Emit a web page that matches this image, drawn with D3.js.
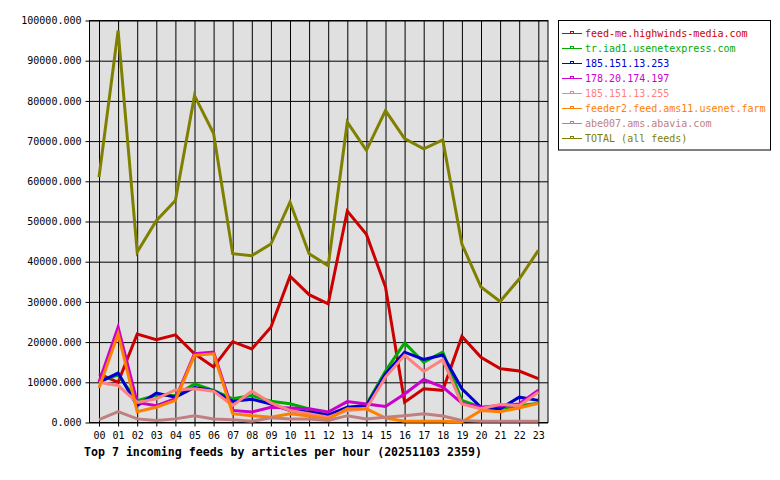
<!DOCTYPE html>
<html>
<head>
<meta charset="utf-8">
<script src="https://cdn.jsdelivr.net/npm/d3@7"></script>
<style>
  body { margin: 0; background: #fff; }
  text { font-family: "DejaVu Sans Mono", "Liberation Mono", monospace; }
</style>
</head>
<body>
<div id="chart"></div>
<script>
var hours = ["00","01","02","03","04","05","06","07","08","09","10","11",
             "12","13","14","15","16","17","18","19","20","21","22","23"];

var feedNames = ["feed-me.highwinds-media.com", "tr.iad1.usenetexpress.com", "185.151.13.253",
                 "178.20.174.197", "185.151.13.255", "feeder2.feed.ams11.usenet.farm",
                 "abe007.ams.abavia.com", "TOTAL (all feeds)"];
var feedColors = ["#cc0000", "#00aa00", "#0000cc", "#cc00cc", "#ff8080", "#ff8000", "#c08080", "#808000"];

var highwinds = [12100,10000,22000,20600,21800,17100,13800,20100,18300,23700,36400,31800,
                 29500,52600,46800,33700,5050,8400,8000,21400,16200,13400,12800,10900];
var usenetexpress = [10400,11800,5400,6800,6700,9600,8000,5900,6700,5300,4650,3400,
                     1700,3400,4500,12800,19800,15000,17500,5500,3800,3400,4200,4800];
var ip253 = [10000,12300,4200,7300,6300,8700,7900,5300,5800,4600,3000,2600,
             1900,3800,4200,12100,17500,15700,16800,8400,3800,3400,6300,5500];
var ip197 = [10000,23700,5000,4200,5900,17100,17500,3000,2600,3800,3600,3400,
             2600,5200,4600,4000,7100,10700,8800,4800,3800,4200,4600,8000];
var ip255 = [10000,9200,5000,5900,8100,8400,7800,4200,7800,4900,3000,2200,
             1300,3000,3400,11300,16700,12700,15600,4600,3400,4500,4200,7500];
var feeder2 = [8600,22100,2700,3800,5500,16700,17100,2200,1700,1300,2200,1600,
               900,3400,3400,1100,300,300,300,100,3000,2700,3600,4800];
var abe007 = [700,2700,900,500,900,1700,900,700,300,1200,900,900,
              500,1700,900,1300,1700,2200,1600,500,300,300,300,300];
var total = [61000,97500,42400,50200,55200,81300,71900,42000,41500,44400,54800,42000,
             39000,74700,67700,77600,70600,68100,70300,44400,33700,30100,35700,42800];

var yTicks = [0,10000,20000,30000,40000,50000,60000,70000,80000,90000,100000];
var title = "Top 7 incoming feeds by articles per hour (20251103 2359)";

var series = [highwinds, usenetexpress, ip253, ip197, ip255, feeder2, abe007, total];

var svg = d3.select("#chart").append("svg")
    .attr("width", 780)
    .attr("height", 480);

var plot = {left: 89.5, right: 548, top: 20.5, bottom: 422.5};

var x = d3.scalePoint().domain(hours).range([99, 538.3]);
var y = d3.scaleLinear().domain([0, 100000]).range([plot.bottom, plot.top]);

svg.append("rect")
    .attr("x", plot.left).attr("y", plot.top)
    .attr("width", plot.right - plot.left).attr("height", plot.bottom - plot.top)
    .attr("fill", "#e0e0e0");

// y axis with grid lines across the plot
var yaxis = svg.append("g")
    .attr("transform", "translate(" + plot.left + ",0)")
    .call(d3.axisLeft(y)
        .tickValues(yTicks)
        .tickSizeInner(-(plot.right - plot.left))
        .tickSizeOuter(0)
        .tickPadding(8)
        .tickFormat(d3.format(".3f")));
yaxis.select(".domain").remove();
yaxis.selectAll(".tick line").attr("stroke", "#000").attr("x1", -4);
yaxis.selectAll(".tick text")
    .attr("font-size", "10px")
    .attr("font-family", "DejaVu Sans Mono")
    .attr("fill", "#000");

// x axis, grid lines up to the top
var xaxis = svg.append("g")
    .attr("transform", "translate(0," + plot.bottom + ")")
    .call(d3.axisBottom(x)
        .tickSizeInner(4)
        .tickSizeOuter(0)
        .tickPadding(5));
xaxis.select(".domain").remove();
xaxis.selectAll(".tick line").attr("stroke", "#000").attr("y1", -(plot.bottom - plot.top));
xaxis.selectAll(".tick text")
    .attr("font-size", "10px")
    .attr("font-family", "DejaVu Sans Mono")
    .attr("fill", "#000");

svg.append("rect")
    .attr("x", plot.left).attr("y", plot.top)
    .attr("width", plot.right - plot.left).attr("height", plot.bottom - plot.top)
    .attr("fill", "none").attr("stroke", "#000");

var line = d3.line()
    .x(function(d, i) { return x(hours[i]); })
    .y(function(d) { return y(d); });

svg.append("g").selectAll("path")
    .data(series)
    .enter().append("path")
    .attr("d", function(d) { return line(d); })
    .attr("fill", "none")
    .attr("stroke", function(d, i) { return feedColors[i]; })
    .attr("stroke-width", 3)
    .attr("stroke-linejoin", "miter");

svg.append("text")
    .attr("x", 84)
    .attr("y", 456)
    .attr("font-size", "11.6px")
    .attr("font-weight", "bold")
    .attr("font-family", "Liberation Mono")
    .attr("fill", "#000")
    .text(title);

// legend
var legend = svg.append("g");
legend.append("rect")
    .attr("x", 558.5).attr("y", 20.5)
    .attr("width", 212).attr("height", 129.5)
    .attr("fill", "#fff").attr("stroke", "#000");

var items = legend.selectAll(".item")
    .data(feedNames)
    .enter().append("g")
    .attr("class", "item")
    .attr("transform", function(d, i) { return "translate(0," + (33.5 + i * 15) + ")"; });

items.append("line")
    .attr("x1", 562).attr("x2", 582)
    .attr("stroke", function(d, i) { return feedColors[i]; })
    .attr("stroke-width", 1);
items.append("rect")
    .attr("x", 570.5).attr("y", -2)
    .attr("width", 3).attr("height", 2)
    .attr("fill", "#fff")
    .attr("stroke", function(d, i) { return feedColors[i]; });
items.append("text")
    .attr("x", 585)
    .attr("dy", "0.35em")
    .attr("font-size", "10px")
    .attr("font-family", "DejaVu Sans Mono")
    .attr("fill", function(d, i) { return feedColors[i]; })
    .text(function(d) { return d; });
</script>
</body>
</html>
